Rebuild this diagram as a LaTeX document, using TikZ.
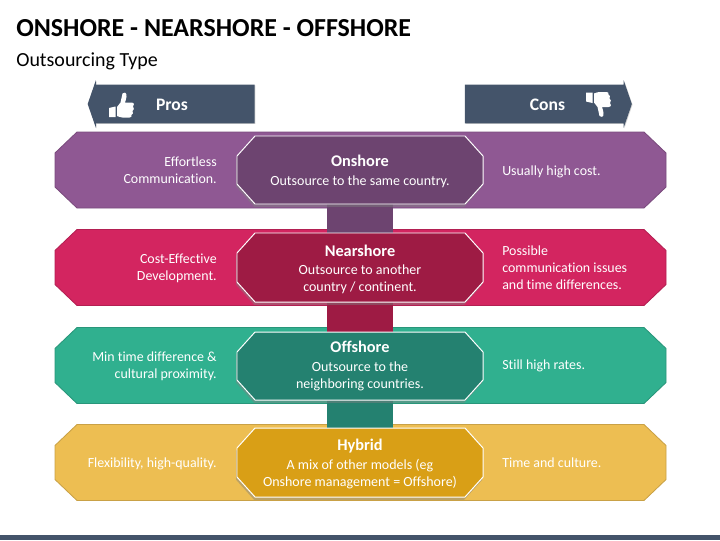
\documentclass[tikz,border=0pt]{standalone}
\usepackage{fontspec}
\setmainfont[Ligatures=NoCommon]{Carlito}
\usetikzlibrary{shapes.arrows,shadows}

\definecolor{slateblue}{HTML}{44546A}
\definecolor{purplelight}{HTML}{8F5893}
\definecolor{purpledark}{HTML}{6D4470}
\definecolor{redlight}{HTML}{D32560}
\definecolor{reddark}{HTML}{9E1B44}
\definecolor{greenlight}{HTML}{30B08F}
\definecolor{greendark}{HTML}{248170}
\definecolor{yellowlight}{HTML}{EDBE52}
\definecolor{yellowdark}{HTML}{D99F16}

% centre, half width, half height, corner x, corner y, style
\newcommand{\octashape}[6]{
  \filldraw[shift={(#1)},#6] (-#2+#4,-#3) -- (#2-#4,-#3) -- (#2,-#3+#5) -- (#2,#3-#5)
    -- (#2-#4,#3) -- (-#2+#4,#3) -- (-#2,#3-#5) -- (-#2,-#3+#5) -- cycle;
}

\tikzset{
  band/.style={draw=#1!85!black, line width=0.6pt, fill=#1},
  centerbox/.style={draw=white, line width=0.7pt, fill=#1,
    drop shadow={shadow xshift=-0.6pt, shadow yshift=-2pt, opacity=0.45}},
  link/.style={line width=66*0.025cm, #1},
  centertext/.style={text=white, align=center, inner sep=0pt, font=\fontsize{9.95}{12.1}\selectfont},
  sidetext/.style={text=white, inner sep=0pt, font=\fontsize{9.9}{12.1}\selectfont},
  prostext/.style={sidetext, align=right, anchor=east},
  constext/.style={sidetext, align=left, anchor=west},
  banner/.style={single arrow, single arrow head extend=4.5*0.025cm, single arrow tip angle=142,
    single arrow head indent=0pt, minimum height=167*0.025cm, inner sep=0pt,
    fill=slateblue, drop shadow={shadow xshift=0.5pt, shadow yshift=-0.5pt, opacity=0.35}},
  bannertext/.style={text=white, inner sep=0pt, font=\fontsize{12.5}{13}\selectfont\bfseries},
  thumb/.pic={
    \fill[white] (-12.5,3.5) -- (-6,2) -- (-6,12.5) -- (-12.5,12.5) -- cycle;
    \fill[white] (-4.5,2.5) -- (-1,-2) .. controls (0,-5) and (0,-8) .. (1,-11)
      .. controls (2,-13) and (5.5,-12.5) .. (5,-8) .. controls (5,-6) and (4,-4) .. (3.5,-2)
      -- (10,-2) .. controls (13,-2) and (13,1) .. (11.5,2)
      .. controls (13,3) and (12.5,6) .. (11,6.5) .. controls (12,8) and (11.5,10) .. (10,10.5)
      .. controls (10.5,12) and (9.5,13) .. (8,13) -- (1,13) .. controls (-1,13) and (-3,12) .. (-4.5,11.5) -- cycle;
  }
}

\begin{document}
\begin{tikzpicture}[x=0.025cm, y=-0.025cm]
    \useasboundingbox (0,0) rectangle (720,540);

    % Footer strip
    \fill[slateblue] (0,535) rectangle (720,540);

    % Title
    \node[anchor=base west, inner sep=0pt, font=\fontsize{18.45}{20}\selectfont\bfseries] (title) at (16,36.5) {ONSHORE - NEARSHORE - OFFSHORE};
    \node[anchor=base west, inner sep=0pt, font=\fontsize{14.2}{16}\selectfont] (subtitle) at (16,66) {Outsourcing Type};

    % Pros and cons banners
    \node[banner, shape border rotate=180] (prosarrow) at (174.5,104) {\rule{0pt}{27pt}};
    \node[banner] (consarrow) at (545,104) {\rule{0pt}{27pt}};
    \node[bannertext] (pros) at (172,105) {Pros};
    \node[bannertext] (cons) at (547.5,105) {Cons};
    \pic at (121.5,104.5) {thumb};
    \pic[yscale=-1] at (598.5,105) {thumb};

    % Wide bands
    \octashape{360.5,170}{305.5}{38}{22}{21}{band=purplelight}
    \octashape{360.5,267.5}{305.5}{38}{22}{21}{band=redlight}
    \octashape{360.5,365.5}{305.5}{38}{22}{21}{band=greenlight}
    \octashape{360.5,462.5}{305.5}{38}{22}{21}{band=yellowlight}

    % Links between the center boxes
    \path (360,170) coordinate (posA) (360,267.5) coordinate (posB) (360,366) coordinate (posC) (360,462.5) coordinate (posD);
    \draw[link=purpledark] (posA) -- (posB);
    \draw[link=reddark] (posB) -- (posC);
    \draw[link=greendark] (posC) -- (posD);

    % Center boxes
    \octashape{posA}{123}{34}{18}{20}{centerbox=purpledark}
    \octashape{posB}{123}{34.5}{18}{20}{centerbox=reddark}
    \octashape{posC}{123}{34}{18}{20}{centerbox=greendark}
    \octashape{posD}{123}{34.5}{18}{20}{centerbox=yellowdark}

    \node[centertext] (onshore) at (360,171.5) {{\bfseries\fontsize{11.6}{12.1}\selectfont Onshore}\\[1.1pt]Outsource to the same country.};
    \node[centertext] (nearshore) at (360,269.5) {{\bfseries\fontsize{11.6}{12.1}\selectfont Nearshore}\\[1.1pt]Outsource to another\\country / continent.};
    \node[centertext] (offshore) at (360,366) {{\bfseries\fontsize{11.6}{12.1}\selectfont Offshore}\\[1.1pt]Outsource to the\\neighboring countries.};
    \node[centertext] (hybrid) at (360,464) {{\bfseries\fontsize{11.6}{12.1}\selectfont Hybrid}\\[1.1pt]A mix of other models (eg\\Onshore management = Offshore)};

    % Pros
    \node[prostext] (prosA) at (217,170) {Effortless\\Communication.};
    \node[prostext] (prosB) at (217,268) {Cost-Effective\\Development.};
    \node[prostext] (prosC) at (217,366) {Min time difference \&\\cultural proximity.};
    \node[prostext] (prosD) at (217,463.5) {Flexibility, high-quality.};

    % Cons
    \node[constext] (consA) at (502,171.5) {Usually high cost.};
    \node[constext] (consB) at (502,268) {Possible\\communication issues\\and time differences.};
    \node[constext] (consC) at (502,365.5) {Still high rates.};
    \node[constext] (consD) at (502,463) {Time and culture.};
\end{tikzpicture}
\end{document}
